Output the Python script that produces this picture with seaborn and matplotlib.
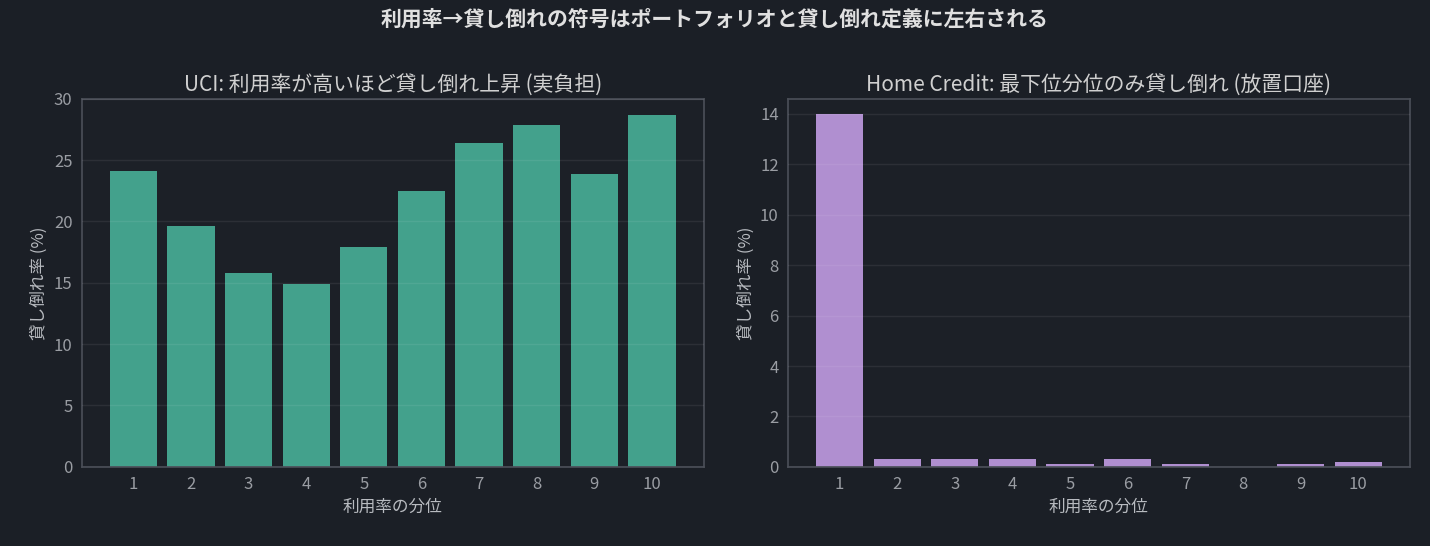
import matplotlib
matplotlib.use("Agg")
import matplotlib.pyplot as plt
import seaborn as sns
import pandas as pd

deciles = [1,2,3,4,5,6,7,8,9,10]
uci_rate = [24.1,19.6,15.8,14.9,17.9,22.5,26.4,27.9,23.9,28.7]
hc_rate = [14.0,0.3,0.3,0.3,0.1,0.3,0.1,0.0,0.1,0.2]

sns.set_theme(style="dark")
plt.rcParams['font.family'] = ['Noto Sans CJK JP', 'DejaVu Sans']
bg = "#1b1f26"
fg = "#d0d0d0"
tick = "#9a9da3"
plt.rcParams.update({"figure.facecolor": bg, "axes.facecolor": "#1c2027",
                     "axes.edgecolor": "#4a4e57", "text.color": fg,
                     "axes.labelcolor": "#b8bbc0", "xtick.color": tick, "ytick.color": tick})

fig, axes = plt.subplots(1, 2, figsize=(14.3, 5.46), dpi=100)
specs = [(axes[0], uci_rate, "#43a18c", "UCI: 利用率が高いほど貸し倒れ上昇 (実負担)", (0,30), [0,5,10,15,20,25,30]),
         (axes[1], hc_rate, "#b08fd0", "Home Credit: 最下位分位のみ貸し倒れ (放置口座)", (0,14.6), [0,2,4,6,8,10,12,14])]
for ax, vals, col, title, ylim, yt in specs:
    df = pd.DataFrame({"d": [str(d) for d in deciles], "v": vals})
    sns.barplot(data=df, x="d", y="v", color=col, saturation=1, width=0.82,
                linewidth=0, edgecolor="none", ax=ax)
    ax.set_ylim(*ylim)
    ax.set_xlim(-0.9, 9.9)
    ax.set_yticks(yt)
    ax.set_title(title, fontsize=15, color=fg)
    ax.set_xlabel("利用率の分位", fontsize=12)
    ax.set_ylabel("貸し倒れ率 (%)", fontsize=12)
    ax.tick_params(labelsize=12, length=3, colors=tick)
    ax.grid(axis="y", color="#ffffff", alpha=0.07, linewidth=1)
    ax.set_axisbelow(False)
    for s in ax.spines.values():
        s.set_visible(True); s.set_color("#4a4e57")
fig.suptitle("利用率→貸し倒れの符号はポートフォリオと貸し倒れ定義に左右される", fontsize=15, fontweight="bold", color="#e0e0e0", y=0.985)
fig.subplots_adjust(left=0.057, right=0.986, top=0.819, bottom=0.145, wspace=0.135)
fig.savefig("out.png", dpi=100, facecolor=bg)
